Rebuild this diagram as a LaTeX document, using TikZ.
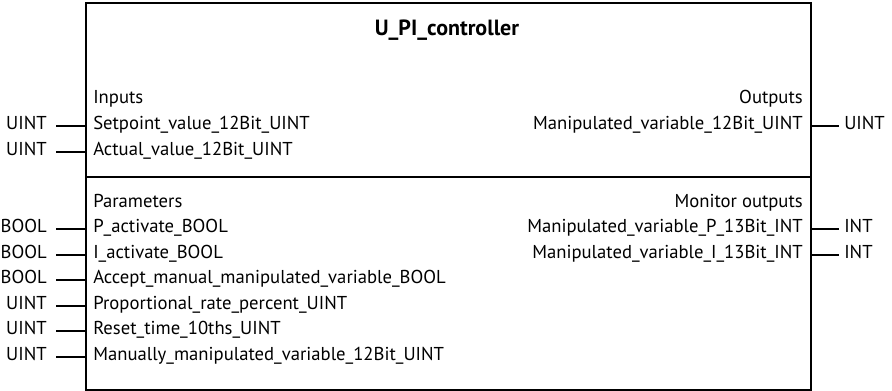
\documentclass[tikz,border=0pt]{standalone}
\usepackage{fontspec}
\setmainfont{PT Sans}
\usetikzlibrary{positioning, calc}

\begin{document}
\begin{tikzpicture}[
			x=0.75pt, y=-0.75pt,
			font=\fontsize{14}{16}\selectfont,
			% Define styles for the block
			fb_box/.style={
				draw=black,
				line width=1.7pt,
				minimum width=543.75pt,
				minimum height=290.25pt,
				inner sep=0pt
			},
			pin_text/.style={
				inner sep=0pt,
				text height=1ex,
				text depth=0pt
			},
			type_text/.style={
				pin_text
			},
			pin_line/.style={
				line width=1.5pt
			}
			]
			
			\useasboundingbox (0,0) rectangle (892,391);
			
			% --- 1. FUNCTION BLOCK ---
			\node[fb_box, anchor=north west] (fb) at (85,2) {};
			\node[font=\fontsize{16.5}{18}\selectfont\bfseries] (title) at (447,30) {U\_PI\_controller};
			\coordinate (div_w) at (85,177);
			\draw[line width=1.7pt] (div_w) -- (div_w -| fb.east);
			
			% --- 2. INPUTS ---
			\node[pin_text, anchor=west] (inputs) at (93,100) {Inputs};
			\node[pin_text, anchor=west] (in_set) at (93,126) {Setpoint\_value\_12Bit\_UINT};
			\node[pin_text, anchor=west] (in_act) at (93,152) {Actual\_value\_12Bit\_UINT};
			
			\node[type_text, anchor=east] (ty_set) at (47,126) {UINT};
			\node[type_text, anchor=east] (ty_act) at (47,152) {UINT};
			\draw[pin_line, shorten <=7pt] (ty_set.east) -- (ty_set.east -| fb.west);
			\draw[pin_line, shorten <=7pt] (ty_act.east) -- (ty_act.east -| fb.west);
			
			% --- 3. OUTPUTS ---
			\node[pin_text, anchor=east] (outputs) at (803,100) {Outputs};
			\node[pin_text, anchor=east] (out_mv) at (803,126) {Manipulated\_variable\_12Bit\_UINT};
			
			\node[type_text, anchor=west] (ty_mv) at (844,126) {UINT};
			\draw[pin_line, shorten >=4pt] (ty_mv.west -| fb.east) -- (ty_mv.west);
			
			% --- 4. PARAMETERS ---
			\node[pin_text, anchor=west] (params) at (93,204) {Parameters};
			\node[pin_text, anchor=west] (par_p) at (93,229.5) {P\_activate\_BOOL};
			\node[pin_text, anchor=west] (par_i) at (93,255) {I\_activate\_BOOL};
			\node[pin_text, anchor=west] (par_acc) at (93,280.5) {Accept\_manual\_manipulated\_variable\_BOOL};
			\node[pin_text, anchor=west] (par_prop) at (93,306) {Proportional\_rate\_percent\_UINT};
			\node[pin_text, anchor=west] (par_reset) at (93,331.5) {Reset\_time\_10ths\_UINT};
			\node[pin_text, anchor=west] (par_man) at (93,357) {Manually\_manipulated\_variable\_12Bit\_UINT};
			
			\node[type_text, anchor=east] (ty_p) at (47,229.5) {BOOL};
			\node[type_text, anchor=east] (ty_i) at (47,255) {BOOL};
			\node[type_text, anchor=east] (ty_acc) at (47,280.5) {BOOL};
			\node[type_text, anchor=east] (ty_prop) at (47,306) {UINT};
			\node[type_text, anchor=east] (ty_reset) at (47,331.5) {UINT};
			\node[type_text, anchor=east] (ty_man) at (47,357) {UINT};
			\draw[pin_line, shorten <=7pt] (ty_p.east) -- (ty_p.east -| fb.west);
			\draw[pin_line, shorten <=7pt] (ty_i.east) -- (ty_i.east -| fb.west);
			\draw[pin_line, shorten <=7pt] (ty_acc.east) -- (ty_acc.east -| fb.west);
			\draw[pin_line, shorten <=7pt] (ty_prop.east) -- (ty_prop.east -| fb.west);
			\draw[pin_line, shorten <=7pt] (ty_reset.east) -- (ty_reset.east -| fb.west);
			\draw[pin_line, shorten <=7pt] (ty_man.east) -- (ty_man.east -| fb.west);
			
			% --- 5. MONITOR OUTPUTS ---
			\node[pin_text, anchor=east] (monitor) at (803,204) {Monitor outputs};
			\node[pin_text, anchor=east] (mon_p) at (803,229.5) {Manipulated\_variable\_P\_13Bit\_INT};
			\node[pin_text, anchor=east] (mon_i) at (803,255) {Manipulated\_variable\_I\_13Bit\_INT};
			
			\node[type_text, anchor=west] (ty_mp) at (844,229.5) {INT};
			\node[type_text, anchor=west] (ty_mi) at (844,255) {INT};
			\draw[pin_line, shorten >=4pt] (ty_mp.west -| fb.east) -- (ty_mp.west);
			\draw[pin_line, shorten >=4pt] (ty_mi.west -| fb.east) -- (ty_mi.west);
			
		\end{tikzpicture}
\end{document}
